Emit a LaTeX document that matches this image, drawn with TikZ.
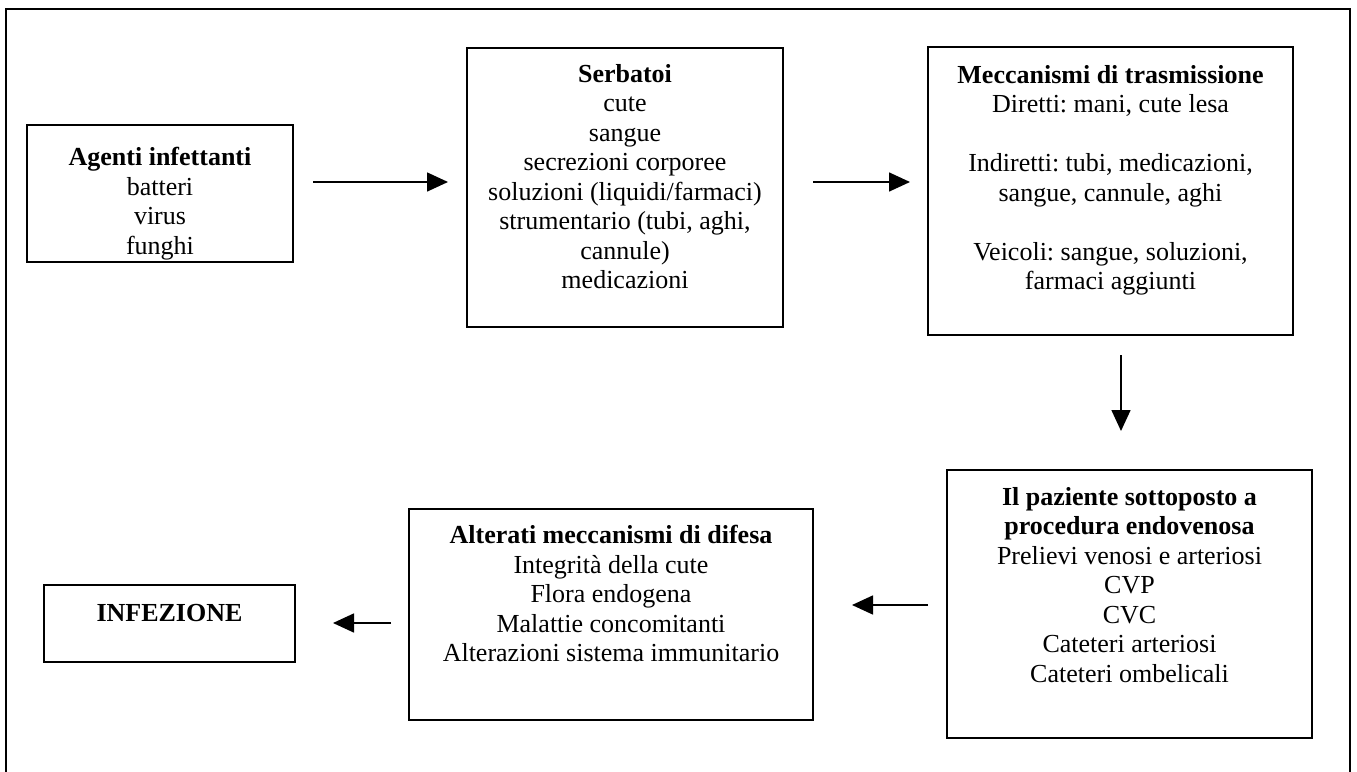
\documentclass[tikz,border=0pt]{standalone}
\usepackage{fontspec}
\setmainfont{Liberation Serif}
\usetikzlibrary{arrows.meta}
\frenchspacing
\begin{document}
\begin{tikzpicture}[x=1pt,y=-1pt,
  box/.style={draw, line width=1.8pt, rectangle, inner sep=0pt},
  txt/.style={align=center, inner sep=0pt, anchor=north, font=\fontsize{26}{29.5}\selectfont\frenchspacing},
  arr/.style={line width=1.6pt, -{Triangle[length=21pt,width=19pt]}}]
\useasboundingbox (0,0) rectangle (1357,771);
\draw[line width=1.6pt] (6,772) -- (6,9) -- (1350,9) -- (1350,772);
% boxes
\node[box, minimum width=266, minimum height=137] (agenti) at (160,193.5) {};
\node[box, minimum width=316, minimum height=279] (serb) at (625,187.5) {};
\node[box, minimum width=365, minimum height=288] (mecc) at (1110.5,191) {};
\node[box, minimum width=365, minimum height=268] (paz) at (1129.5,604) {};
\node[box, minimum width=404, minimum height=211] (alt) at (611,614.5) {};
\node[box, minimum width=251, minimum height=77] (inf) at (169.5,623.5) {};
% texts
\node[txt] (tagenti) at (160,147) {\textbf{Agenti infettanti}\\batteri\\virus\\funghi};
\node[txt] (tserb) at (625,64) {\textbf{Serbatoi}\\cute\\sangue\\secrezioni corporee\\soluzioni (liquidi/farmaci)\\strumentario (tubi, aghi,\\cannule)\\medicazioni};
\node[txt] (tmecc) at (1110.5,65) {\textbf{Meccanismi di trasmissione}\\Diretti: mani, cute lesa\\[29.5pt]Indiretti: tubi, medicazioni,\\sangue, cannule, aghi\\[29.5pt]Veicoli: sangue, soluzioni,\\farmaci aggiunti};
\node[txt] (tpaz) at (1129.5,487) {\textbf{Il paziente sottoposto a}\\\textbf{procedura endovenosa}\\Prelievi venosi e arteriosi\\CVP\\CVC\\Cateteri arteriosi\\Cateteri ombelicali};
\node[txt] (talt) at (611,525) {\textbf{Alterati meccanismi di difesa}\\Integrità della cute\\Flora endogena\\Malattie concomitanti\\Alterazioni sistema immunitario};
\node[txt] (tinf) at (169.5,604) {\textbf{INFEZIONE}};
% connector ends
\coordinate (a1s) at (313,182); \coordinate (a1e) at (448,182);
\coordinate (a2s) at (813,182); \coordinate (a2e) at (910,182);
\coordinate (a3s) at (1121,355); \coordinate (a3e) at (1121,431);
\coordinate (a4s) at (928,605); \coordinate (a4e) at (852,605);
\coordinate (a5s) at (391,623); \coordinate (a5e) at (333,623);
\draw[arr] (a1s) -- (a1e);
\draw[arr] (a2s) -- (a2e);
\draw[arr] (a3s) -- (a3e);
\draw[arr] (a4s) -- (a4e);
\draw[arr] (a5s) -- (a5e);
\end{tikzpicture}
\end{document}
